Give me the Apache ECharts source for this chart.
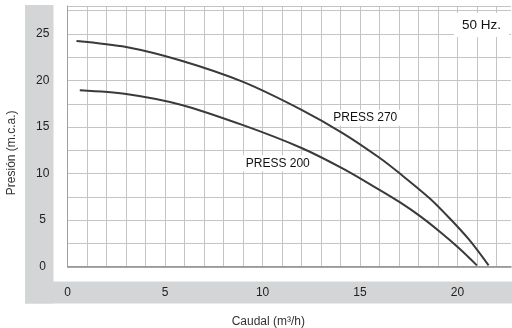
<!DOCTYPE html>
<html>
<head>
<meta charset="utf-8">
<script src="https://cdn.jsdelivr.net/npm/echarts@6/dist/echarts.min.js"></script>
<style>html,body{margin:0;padding:0;background:#fff;}#c{width:512px;height:328px;}</style>
</head>
<body>
<div id="c"></div>
<script>
// Data
var seriesNames = ['PRESS 270', 'PRESS 200'];
var press270 = [[0.45,24.25],[3.0,23.6],[5.8,22.15],[9.0,19.85],[12.0,16.85],[14.15,14.3],[16.0,11.7],[17.05,10.0],[18.6,7.3],[19.6,5.2],[20.6,2.9],[21.6,0.15]];
var press200 = [[0.62,18.95],[3.0,18.55],[5.8,17.4],[9.0,15.2],[12.0,12.75],[14.15,10.5],[16.0,8.25],[17.06,6.9],[18.1,5.4],[19.1,3.75],[20.1,1.95],[21.0,0.14]];
var labelPos270 = [15.27, 16.0];
var labelPos200 = [10.78, 11.1];
var xTicks = [0, 5, 10, 15, 20];
var yTicks = [0, 5, 10, 15, 20, 25];
var xName = 'Caudal (m³/h)';
var yName = 'Presión (m.c.a.)';
var freqLabel = '50 Hz.';

var font = 'Liberation Sans, Arial, Helvetica, sans-serif';
var lineColor = '#3a3a3a';

var chart = echarts.init(document.getElementById('c'), null, {renderer: 'canvas'});

function mkSeries(name, data, pos) {
  return {
    name: name,
    type: 'line',
    data: data,
    smooth: 0.3,
    symbol: 'none',
    lineStyle: {color: lineColor, width: 2},
    z: 5,
    markPoint: {
      symbol: 'circle',
      symbolSize: 0,
      data: [{coord: pos, value: name}],
      label: {
        show: true,
        position: 'inside',
        formatter: name,
        color: '#111',
        fontFamily: font,
        fontSize: 12,
        backgroundColor: '#fff',
        padding: [2, 3, 2, 3]
      }
    }
  };
}

chart.setOption({
  animation: false,
  backgroundColor: '#fff',
  title: {
    text: freqLabel,
    left: 454,
    top: 13,
    padding: [5, 8, 5, 8],
    backgroundColor: '#fff',
    textStyle: {fontFamily: font, fontSize: 13.5, fontWeight: 'normal', color: '#111'},
    z: 10
  },
  graphic: [
    {type: 'rect', z: -10, shape: {x: 25, y: 5, width: 28.5, height: 298.5}, style: {fill: '#d4d5d7'}, silent: true},
    {type: 'rect', z: -10, shape: {x: 25, y: 281.5, width: 487, height: 22}, style: {fill: '#d4d5d7'}, silent: true}
  ],
  grid: {
    left: 67.7, top: 6, right: 1, bottom: 61.3,
    outerBoundsMode: 'none',
    containLabel: false,
    show: false
  },
  xAxis: {
    type: 'value',
    min: 0, max: 22.75, interval: 1,
    name: xName,
    nameLocation: 'middle',
    nameGap: 49,
    nameTextStyle: {fontFamily: font, fontSize: 12, color: '#333', padding: [0, 42, 0, 0]},
    axisLine: {show: true, lineStyle: {color: '#8a8a8a', width: 1.5}},
    axisTick: {show: false},
    axisLabel: {
      margin: 20, fontFamily: font, fontSize: 12, color: '#222',
      formatter: function (v) { return xTicks.indexOf(v) >= 0 ? String(v) : ''; }
    },
    splitLine: {show: true, showMaxLine: false, showMinLine: true, lineStyle: {color: '#c4c4c4', width: 1}}
  },
  yAxis: {
    type: 'value',
    min: 0, max: 28, interval: 2.5,
    name: yName,
    nameLocation: 'middle',
    nameGap: 50,
    nameRotate: 90,
    nameTextStyle: {fontFamily: font, fontSize: 12, color: '#333', padding: [0, 33, 0, 0]},
    axisLine: {show: true, lineStyle: {color: '#a0a0a0', width: 1}},
    axisTick: {show: false},
    axisLabel: {
      margin: 25, align: 'center', fontFamily: font, fontSize: 12, color: '#222',
      formatter: function (v) { return yTicks.indexOf(v) >= 0 ? String(v) : ''; }
    },
    splitLine: {show: true, showMaxLine: true, showMinLine: true, lineStyle: {color: '#c4c4c4', width: 1}}
  },
  series: [
    mkSeries(seriesNames[0], press270, labelPos270),
    mkSeries(seriesNames[1], press200, labelPos200)
  ]
});
</script>
</body>
</html>
